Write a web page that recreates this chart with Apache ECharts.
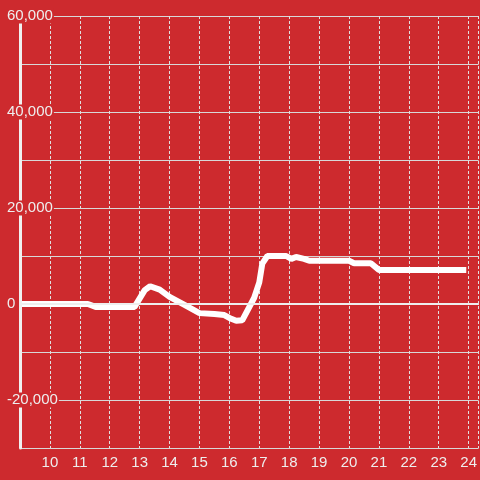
<!DOCTYPE html>
<html>
<head>
<meta charset="utf-8">
<script src="https://cdn.jsdelivr.net/npm/echarts@6/dist/echarts.min.js"></script>
<style>
html,body{margin:0;padding:0;background:#cd2a2e;}
#chart{width:480px;height:480px;}
</style>
</head>
<body>
<div id="chart"></div>
<script>
var hours = [9, 11.27, 11.53, 12.83, 13.17, 13.35, 13.67, 14.0, 14.5, 15.0, 15.5, 15.83, 16.0, 16.23, 16.43, 16.83, 17.0, 17.1, 17.27, 17.9, 18.07, 18.23, 18.5, 18.67, 20.0, 20.17, 20.73, 21.0, 23.92];
var values = [0, 0, -600, -600, 2900, 3700, 3000, 1500, -200, -1900, -2100, -2300, -2900, -3500, -3400, 1300, 4500, 8400, 10000, 10000, 9400, 9800, 9400, 9000, 9000, 8500, 8500, 7100, 7100];
var xTickLabels = [10, 11, 12, 13, 14, 15, 16, 17, 18, 19, 20, 21, 22, 23, 24];
var yTickLabels = [-20000, 0, 20000, 40000, 60000];

var bg = '#cd2a2e';
var data = hours.map(function (h, i) { return [h, values[i]]; });

var chart = echarts.init(document.getElementById('chart'));
chart.setOption({
  backgroundColor: bg,
  animation: false,
  textStyle: { fontFamily: 'Liberation Sans, Arial, sans-serif' },
  grid: { left: 20, right: 0, top: 16, bottom: 32, containLabel: false },
  xAxis: {
    type: 'value',
    min: 9,
    max: 24.3333,
    interval: 1,
    axisLine: { show: true, lineStyle: { color: '#d8d8d8', width: 1 } },
    axisTick: { show: false },
    axisLabel: {
      customValues: xTickLabels,
      color: '#eeeeee',
      fontSize: 15,
      margin: 7,
      formatter: function (v) { return String(Math.round(v)); }
    },
    splitLine: { show: true, lineStyle: { color: '#e0e0e0', width: 1, type: [3, 2] } }
  },
  yAxis: [
    {
      type: 'value',
      min: -30000,
      max: 60000,
      interval: 10000,
      z: 0,
      axisLine: { show: false },
      axisTick: { show: false },
      axisLabel: { show: false },
      splitLine: { show: true, lineStyle: { color: '#d8d8d8', width: 1 } }
    },
    {
      type: 'value',
      min: -30000,
      max: 60000,
      interval: 10000,
      position: 'left',
      z: 5,
      axisLine: { show: true, lineStyle: { color: '#f0f0f0', width: 3 } },
      axisTick: { show: false },
      splitLine: { show: false },
      axisLabel: {
        customValues: yTickLabels,
        color: '#eeeeee',
        fontSize: 15,
        align: 'left',
        margin: 14,
        backgroundColor: bg,
        padding: [0, 1, 0, 1],
        formatter: function (v) { return v.toLocaleString('en-US'); }
      }
    }
  ],
  series: [{
    type: 'line',
    data: data,
    yAxisIndex: 0,
    showSymbol: false,
    symbol: 'none',
    z: 2,
    lineStyle: { color: '#ffffff', width: 6 },
    markLine: {
      silent: true,
      symbol: 'none',
      label: { show: false },
      lineStyle: { color: '#eeeeee', width: 2, type: 'solid' },
      data: [{ yAxis: 0 }]
    }
  }]
});
</script>
</body>
</html>
